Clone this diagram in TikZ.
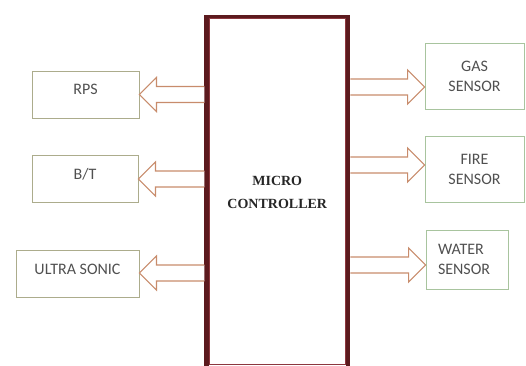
\documentclass[tikz,border=0pt]{standalone}
\usepackage{fontspec}
\setmainfont{Carlito}
\newfontfamily\mcfont{Liberation Serif}
\usepackage{tikz}
\usetikzlibrary{calc,positioning}

\definecolor{mcred}{RGB}{92,26,30}
\definecolor{mcthin}{RGB}{140,55,62}
\definecolor{arrowbrown}{RGB}{200,140,108}
\definecolor{leftline}{RGB}{172,172,140}
\definecolor{rightline}{RGB}{168,196,158}
\definecolor{labelgray}{RGB}{80,80,80}

% hollow block arrow: #1 = start anchor, #2 = tip anchor, #3 = vertical shift
\newcommand{\hollowarrow}[3]{%
  \coordinate (tip) at ($(#2)+(0,#3)$);
  \coordinate (tail) at (#1 |- tip);
  \coordinate (hbase) at ($(tip)!17pt!(tail)$);
  \draw[arrowline] ($(tail)+(0,-8)$) -- ($(hbase)+(0,-8)$) -- ($(hbase)+(0,-17)$)
    -- (tip) -- ($(hbase)+(0,17)$) -- ($(hbase)+(0,8)$) -- ($(tail)+(0,8)$);
}

\begin{document}
\begin{tikzpicture}[
  x=1pt, y=-1pt,
  leftbox/.style={draw=leftline,line width=0.9pt,minimum height=47pt,inner sep=0pt,
    text=labelgray,font=\fontsize{16}{19}\selectfont,text height=10pt,text depth=10pt},
  rightbox/.style={draw=rightline,line width=0.9pt,inner sep=0pt,
    text=labelgray,font=\fontsize{16}{20}\selectfont},
  mcbox/.style={draw=mcred,line width=4.5pt,inner sep=0pt,
    font=\mcfont\bfseries\fontsize{14}{23}\selectfont,text=black!85,align=center},
  arrowline/.style={draw=arrowbrown,line width=1.1pt,fill=white}
]
\useasboundingbox (0,0) rectangle (526,365);
\clip (0,0) rectangle (526,365);

% micro controller
\node[mcbox,minimum width=141.5pt,minimum height=351pt] (mc) at (277.25,192.5)
  {MICRO\\CONTROLLER};

% left side
\node[leftbox,minimum width=107pt] (rps) at (85.5,94.5) {RPS};
\node[leftbox,minimum width=106pt] (bt) at (85,179) {B/T};
\node[leftbox,minimum width=123pt] (us) at (77.5,274) {ULTRA SONIC};

% right side
\node[rightbox,minimum width=99pt,minimum height=66pt,align=center] (gas) at (474.5,76) {GAS\\SENSOR};
\node[rightbox,minimum width=99pt,minimum height=66pt,align=center] (fire) at (474.5,169) {FIRE\\SENSOR};
\node[rightbox,minimum width=82pt,minimum height=59pt,align=left,text width=58pt,inner xsep=12pt] (water) at (467,259.5) {WATER\\SENSOR};

\hollowarrow{mc.west}{rps.east}{0}
\hollowarrow{mc.west}{bt.east}{0}
\hollowarrow{mc.west}{us.east}{-1}
\hollowarrow{mc.east}{gas.west}{11}
\hollowarrow{mc.east}{fire.west}{-4}
\hollowarrow{mc.east}{water.west}{5.5}

% inner thin frame of the controller
\draw[mcthin,line width=1pt] ($(mc.north west)+(5,4)$) rectangle ($(mc.south east)+(-5,-6)$);
\end{tikzpicture}
\end{document}
